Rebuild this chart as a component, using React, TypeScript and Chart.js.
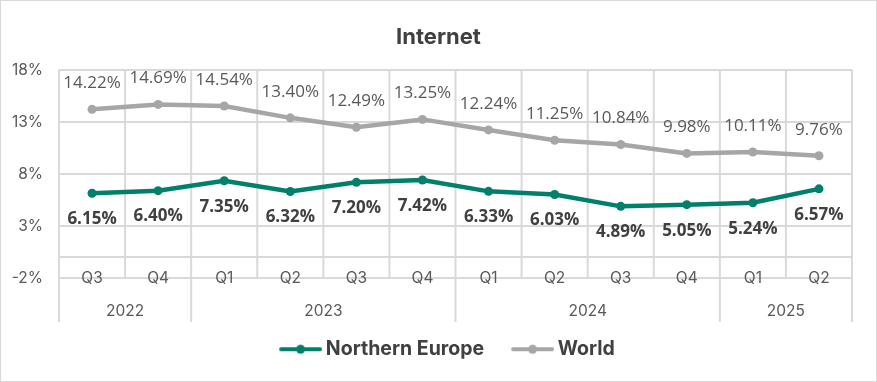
import React, { useEffect, useRef } from "react";
import { Chart, registerables } from "chart.js";

Chart.register(...registerables);

const QUARTERS = ["Q3", "Q4", "Q1", "Q2", "Q3", "Q4", "Q1", "Q2", "Q3", "Q4", "Q1", "Q2"];
const YEARS = ["2022", "2022", "2023", "2023", "2023", "2023", "2024", "2024", "2024", "2024", "2025", "2025"];
const NORTHERN_EUROPE = [6.15, 6.4, 7.35, 6.32, 7.2, 7.42, 6.33, 6.03, 4.89, 5.05, 5.24, 6.57];
const WORLD = [14.22, 14.69, 14.54, 13.4, 12.49, 13.25, 12.24, 11.25, 10.84, 9.98, 10.11, 9.76];
const Y_TICKS = [-2, 0, 3, 8, 13, 18];

const TEAL = "#00806A";
const GRAY = "#A6A6A6";
const GRID = "#D9D9D9";
const AXIS_FONT = "Inter";
const LABEL_FONT = "Open Sans";

function makeLegendImage(color: string): HTMLCanvasElement {
  const W = 54 + 12;
  const c = document.createElement("canvas");
  c.width = W;
  c.height = 12;
  const ctx = c.getContext("2d")!;
  ctx.strokeStyle = color;
  ctx.lineWidth = 4;
  ctx.lineCap = "round";
  ctx.beginPath();
  ctx.moveTo(W - 43 + 2, 6);
  ctx.lineTo(W - 2, 6);
  ctx.stroke();
  ctx.fillStyle = color;
  ctx.beginPath();
  ctx.arc(W - 21.5, 6, 4.5, 0, Math.PI * 2);
  ctx.fill();
  return c;
}

const chartDecor = {
  id: "chartDecor",
  beforeDraw(chart: any) {
    const ctx = chart.ctx;
    ctx.save();
    ctx.fillStyle = "#fff";
    ctx.fillRect(0, 0, chart.width, chart.height);
    ctx.strokeStyle = GRID;
    ctx.lineWidth = 1;
    ctx.strokeRect(0.5, 0.5, chart.width - 1, chart.height - 1);
    ctx.restore();
  },
  beforeDatasetsDraw(chart: any) {
    const { ctx, chartArea } = chart;
    const xs = chart.scales.x;
    const n = QUARTERS.length;
    const bounds: number[] = [];
    for (let i = 0; i <= n; i++) {
      if (i === 0) bounds.push(chartArea.left);
      else if (i === n) bounds.push(chartArea.right);
      else bounds.push((xs.getPixelForValue(i - 1) + xs.getPixelForValue(i)) / 2);
    }
    ctx.save();
    ctx.strokeStyle = GRID;
    ctx.lineWidth = 2;
    for (let i = 0; i <= n; i++) {
      const isYearEdge = i === 0 || i === n || YEARS[i] !== YEARS[i - 1];
      const bottom = isYearEdge ? chartArea.bottom + 44 : chartArea.bottom;
      ctx.beginPath();
      ctx.moveTo(bounds[i], chartArea.top);
      ctx.lineTo(bounds[i], bottom);
      ctx.stroke();
    }
    ctx.fillStyle = "#595959";
    ctx.font = `15.5px ${AXIS_FONT}`;
    ctx.textAlign = "center";
    ctx.textBaseline = "middle";
    for (let i = 0; i < n; i++) {
      ctx.fillText(QUARTERS[i], xs.getPixelForValue(i), chartArea.bottom);
    }
    let start = 0;
    for (let i = 1; i <= n; i++) {
      if (i === n || YEARS[i] !== YEARS[start]) {
        const cx = (bounds[start] + bounds[i]) / 2;
        ctx.fillText(YEARS[start], cx, chartArea.bottom + 33);
        start = i;
      }
    }
    ctx.restore();
  },
  afterDatasetsDraw(chart: any) {
    const ctx = chart.ctx;
    ctx.save();
    ctx.textAlign = "center";
    ctx.textBaseline = "middle";
    chart.data.datasets.forEach((ds: any, di: number) => {
      const meta = chart.getDatasetMeta(di);
      const above = di === 1;
      ctx.font = above ? `17px '${LABEL_FONT}'` : `bold 17px '${LABEL_FONT}'`;
      ctx.fillStyle = above ? "#595959" : "#404040";
      meta.data.forEach((pt: any, i: number) => {
        const v = ds.data[i] as number;
        ctx.fillText(v.toFixed(2) + "%", pt.x, above ? pt.y - 26 : pt.y + 26);
      });
    });
    ctx.restore();
  },
};

export default function App() {
  const ref = useRef<HTMLCanvasElement | null>(null);
  useEffect(() => {
    if (!ref.current) return;
    const chart = new Chart(ref.current, {
      type: "line",
      data: {
        labels: QUARTERS.map((q, i) => `${q} ${YEARS[i]}`),
        datasets: [
          {
            label: "Northern Europe",
            data: NORTHERN_EUROPE,
            borderColor: TEAL,
            backgroundColor: TEAL,
            pointBackgroundColor: TEAL,
            pointBorderWidth: 0,
            pointRadius: 4.5,
            borderWidth: 4.5,
            tension: 0,
          },
          {
            label: "World",
            data: WORLD,
            borderColor: GRAY,
            backgroundColor: GRAY,
            pointBackgroundColor: GRAY,
            pointBorderWidth: 0,
            pointRadius: 4.5,
            borderWidth: 4.5,
            tension: 0,
          },
        ],
      },
      options: {
        responsive: false,
        animation: false,
        layout: { padding: { left: 0, right: 0, top: 0, bottom: 13 } },
        scales: {
          x: {
            type: "category",
            offset: true,
            ticks: { display: false },
            grid: { display: false },
            border: { display: false },
            afterFit(scale: any) {
              scale.height = 51.5;
            },
          },
          y: {
            min: -2,
            max: 18,
            afterBuildTicks(scale: any) {
              scale.ticks = Y_TICKS.map((v) => ({ value: v }));
            },
            afterFit(scale: any) {
              scale.width = 59;
            },
            ticks: {
              padding: 16,
              color: "#595959",
              font: { family: AXIS_FONT, size: 15.5 },
              callback: (v: any) => (v === 0 ? "" : `${v}%`),
            },
            grid: { color: GRID, lineWidth: 2, drawTicks: false },
            border: { display: false },
          },
          yR: {
            position: "right",
            display: true,
            ticks: { display: false },
            grid: { display: false },
            border: { display: false },
            afterFit(scale: any) {
              scale.width = 25;
            },
          },
        },
        plugins: {
          title: {
            display: true,
            text: "Internet",
            color: "#404040",
            font: { family: AXIS_FONT, size: 22, weight: "bold" },
            padding: { top: 24, bottom: 19.6 },
          },
          legend: {
            position: "bottom",
            labels: {
              usePointStyle: true,
              pointStyleWidth: 54,
              padding: 10,
              color: "#404040",
              font: { family: AXIS_FONT, size: 19.5, weight: "bold" },
              generateLabels: (chart: any) =>
                chart.data.datasets.map((ds: any, i: number) => ({
                  text: ds.label,
                  fillStyle: ds.borderColor,
                  strokeStyle: ds.borderColor,
                  lineWidth: 0,
                  pointStyle: makeLegendImage(ds.borderColor),
                  datasetIndex: i,
                  hidden: false,
                  fontColor: "#404040",
                })),
            },
          },
          tooltip: { enabled: false },
        },
      },
      plugins: [chartDecor],
    });
    return () => chart.destroy();
  }, []);
  return (
    <div style={{ position: "fixed", left: 0, top: 0, width: 877, height: 382 }}>
      <canvas ref={ref} width={877} height={382} />
    </div>
  );
}
